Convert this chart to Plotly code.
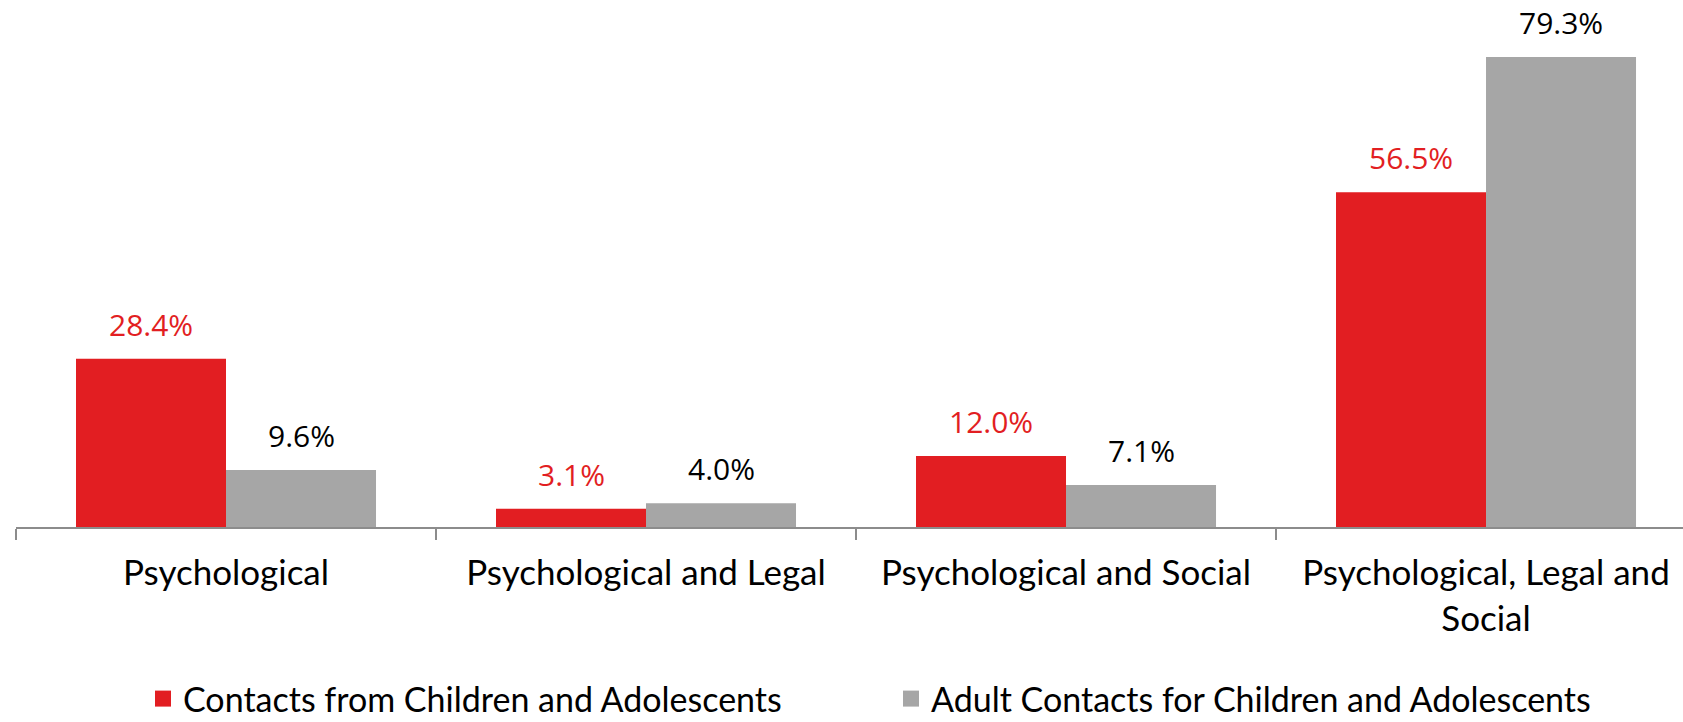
import plotly.graph_objects as go

categories = ["Psychological", "Psychological and Legal", "Psychological and Social",
              "Psychological, Legal and<br>Social"]
children = [28.4, 3.1, 12.0, 56.5]
adults = [9.6, 4.0, 7.1, 79.3]
series_names = ["Contacts from Children and Adolescents",
                "Adult Contacts for Children and Adolescents"]
RED = "#E21E22"
GRAY = "#A6A6A6"

fig = go.Figure()
fig.add_trace(go.Bar(x=categories, y=children, marker_color=RED, showlegend=False,
                     marker_line_width=0))
fig.add_trace(go.Bar(x=categories, y=adults, marker_color=GRAY, showlegend=False,
                     marker_line_width=0))
# legend entries
for name, col in zip(series_names, [RED, GRAY]):
    fig.add_trace(go.Scatter(x=[None], y=[None], mode="markers", name=name,
                             marker=dict(symbol="square", size=23, color=col)))

for vals, col, xs in [(children, RED, -75), (adults, "#000000", 75)]:
    for c, v in zip(categories, vals):
        fig.add_annotation(x=c, y=v, text=f"{v:.1f}%", showarrow=False,
                           xshift=xs, yshift=12, yanchor="bottom",
                           font=dict(family="Open Sans", size=30, color=col))

fig.update_layout(
    width=1683, height=722,
    margin=dict(l=16, r=0, t=0, b=195),
    paper_bgcolor="white", plot_bgcolor="white",
    barmode="group", bargap=0.2857, bargroupgap=0,
    xaxis=dict(range=[-0.5, 3.469], showline=True, linecolor="#8C8C8C", linewidth=2,
               ticks="outside", tickson="boundaries", ticklen=11, tickcolor="#8C8C8C",
               tickwidth=2, tickfont=dict(family="Lato", size=35, color="#000"),
               showgrid=False, ticklabelstandoff=14, automargin=False),
    yaxis=dict(range=[0, 88.92], visible=False, showgrid=False, automargin=False),
    legend=dict(orientation="h", xref="container", yref="container",
                x=143 / 1683, xanchor="left", y=(722 - 699) / 722, yanchor="middle",
                font=dict(family="Lato", size=34, color="#000"),
                entrywidth=703, itemwidth=30, bgcolor="rgba(0,0,0,0)"),
)
fig.write_html("out.html", config={"displayModeBar": False},
               post_script="document.body.style.margin='0';document.body.style.overflow='hidden';")
